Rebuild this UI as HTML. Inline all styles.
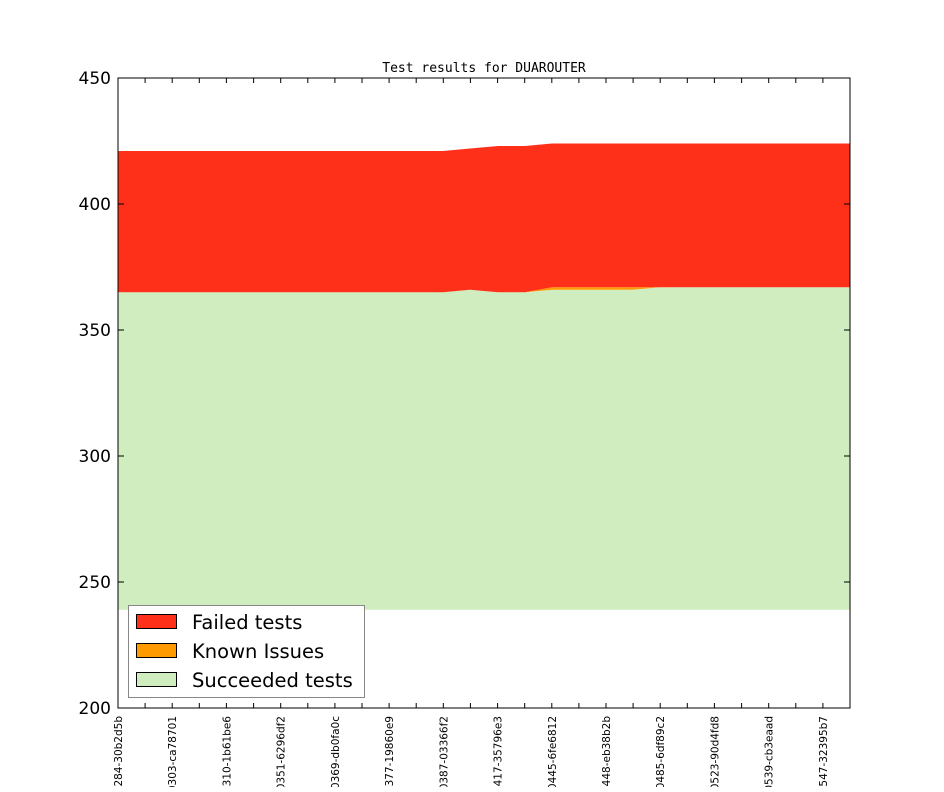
<!DOCTYPE html>
<html><head><style>body{margin:0;background:#fff}</style></head><body>
<svg width="944" height="787" xmlns="http://www.w3.org/2000/svg" font-family="DejaVu Sans, Liberation Sans, sans-serif">
<rect width="944" height="787" fill="#fff"/>
<text x="484" y="72" font-size="13" font-family="DejaVu Sans Mono, Liberation Mono, monospace" text-anchor="middle">Test results for DUAROUTER</text>
<polygon fill="#cfedbe" points="118,609.7 850,609.7 850,287.2 660,287.2 633,289.7 552,289.7 525,292.2 498,292.2 470,289.7 443,292.2 118,292.2"/>
<polygon fill="#ff9a00" points="552,289.7 633,289.7 660,287.2 633,287.2 552,287.2 525,292.2"/>
<polygon fill="#ff3019" points="118,292.2 443,292.2 470,289.7 498,292.2 525,292.2 552,287.2 633,287.2 660,287.2 850,287.2 850,143.5 552,143.5 525,146 498,146 470,148.5 443,151 118,151"/>
<rect x="118" y="78" width="732" height="630" fill="none" stroke="#000" stroke-width="1"/>
<g font-size="17" text-anchor="end">
<text x="111" y="84">450</text><text x="111" y="210">400</text><text x="111" y="336">350</text><text x="111" y="462">300</text><text x="111" y="588">250</text><text x="111" y="714">200</text>
</g>
<g stroke="#000">
<line x1="118" y1="78" x2="124" y2="78"/><line x1="118" y1="204" x2="124" y2="204"/><line x1="118" y1="330" x2="124" y2="330"/><line x1="118" y1="456" x2="124" y2="456"/><line x1="118" y1="582" x2="124" y2="582"/>
<line x1="850" y1="78" x2="844" y2="78"/><line x1="850" y1="204" x2="844" y2="204"/><line x1="850" y1="330" x2="844" y2="330"/><line x1="850" y1="456" x2="844" y2="456"/><line x1="850" y1="582" x2="844" y2="582"/>
<path d="M145.1 708v-5M172.2 708v-5M199.3 708v-5M226.4 708v-5M253.6 708v-5M280.7 708v-5M307.8 708v-5M334.9 708v-5M362 708v-5M389.1 708v-5M416.2 708v-5M443.3 708v-5M470.4 708v-5M497.6 708v-5M524.7 708v-5M551.8 708v-5M578.9 708v-5M606 708v-5M633.1 708v-5M660.2 708v-5M687.3 708v-5M714.4 708v-5M741.6 708v-5M768.7 708v-5M795.8 708v-5M822.9 708v-5"/>
<path d="M145.1 78v5M172.2 78v5M199.3 78v5M226.4 78v5M253.6 78v5M280.7 78v5M307.8 78v5M334.9 78v5M362 78v5M389.1 78v5M416.2 78v5M443.3 78v5M470.4 78v5M497.6 78v5M524.7 78v5M551.8 78v5M578.9 78v5M606 78v5M633.1 78v5M660.2 78v5M687.3 78v5M714.4 78v5M741.6 78v5M768.7 78v5M795.8 78v5M822.9 78v5"/>
</g>
<g font-size="10.5" text-anchor="end">
<text transform="translate(122,716) rotate(-90)">0284-30b2d5b</text>
<text transform="translate(176.2,716) rotate(-90)">0303-ca78701</text>
<text transform="translate(230.4,716) rotate(-90)">0310-1b61be6</text>
<text transform="translate(284.7,716) rotate(-90)">-0351-6296df2</text>
<text transform="translate(338.9,716) rotate(-90)">-0369-db0fa0c</text>
<text transform="translate(393.1,716) rotate(-90)">0377-19860e9</text>
<text transform="translate(447.3,716) rotate(-90)">-0387-03366f2</text>
<text transform="translate(501.6,716) rotate(-90)">0417-35796e3</text>
<text transform="translate(555.8,716) rotate(-90)">-0445-6fe6812</text>
<text transform="translate(610,716) rotate(-90)">0448-eb38b2b</text>
<text transform="translate(664.2,716) rotate(-90)">-0485-6df89c2</text>
<text transform="translate(718.4,716) rotate(-90)">-0523-90d4fd8</text>
<text transform="translate(772.7,716) rotate(-90)">0539-cb3eaad</text>
<text transform="translate(826.9,716) rotate(-90)">0547-32395b7</text>
</g>
<rect x="128.5" y="605.5" width="236" height="92" fill="#fff" stroke="#888"/>
<rect x="136.5" y="614.5" width="40" height="14" fill="#ff3019" stroke="#000"/>
<rect x="136.5" y="643.5" width="40" height="14" fill="#ff9a00" stroke="#000"/>
<rect x="136.5" y="672.5" width="40" height="14" fill="#cfedbe" stroke="#000"/>
<g font-size="19.5"><text x="192" y="629">Failed tests</text><text x="192" y="658">Known Issues</text><text x="192" y="687">Succeeded tests</text></g>
</svg>
</body></html>
